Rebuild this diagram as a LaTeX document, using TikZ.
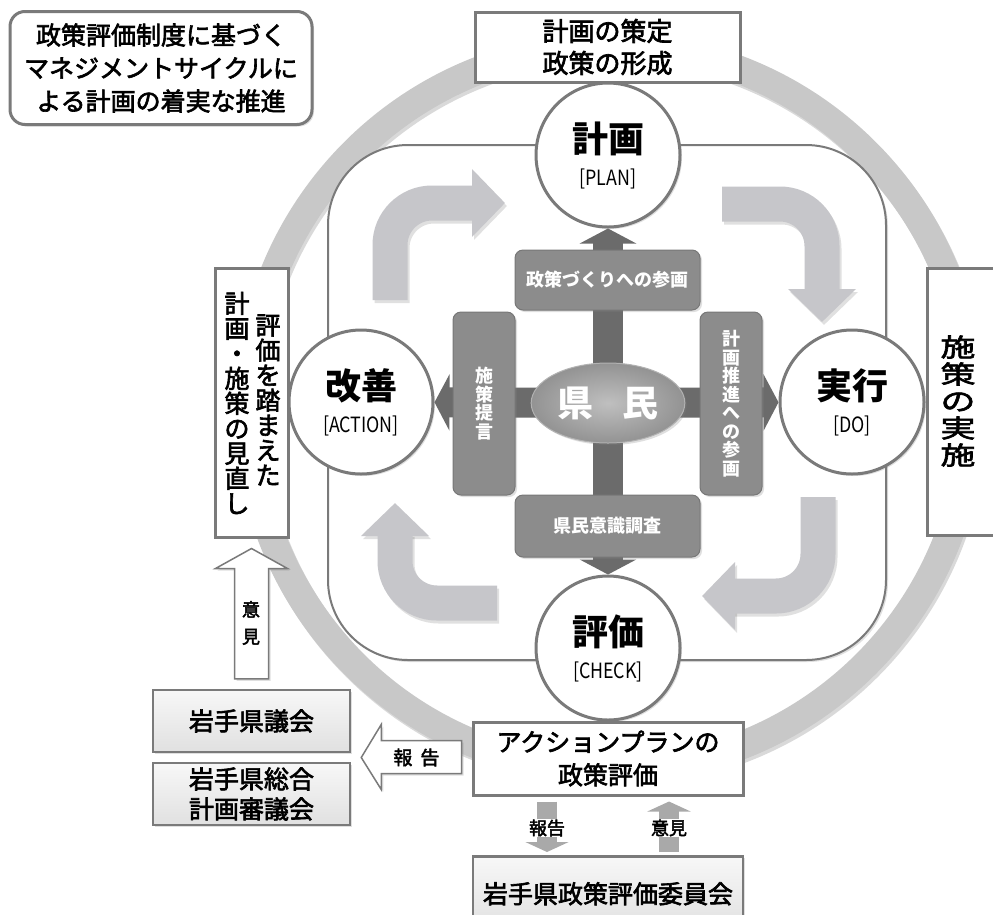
\documentclass[tikz,border=0pt]{standalone}
\usepackage{fontspec}
\setmainfont{Noto Sans CJK JP}[UprightFeatures={FakeBold=2.5}]
\newfontfamily\narrowfont[FakeStretch=0.85]{Noto Sans CJK JP}
\newfontfamily\widefont[FakeStretch=1.4,FakeBold=2.5]{Noto Sans CJK JP}
\usetikzlibrary{arrows.meta,shapes.geometric,shadows,calc}

\definecolor{ringgray}{HTML}{C8C8C8}
\definecolor{arrowgray}{HTML}{C6C6CA}
\definecolor{linegray}{HTML}{7A7A7A}
\definecolor{darkbox}{HTML}{8C8C8C}
\definecolor{bargray}{HTML}{6B6B6B}
\definecolor{smallgray}{HTML}{A9A9A9}

\newcommand{\fs}[1]{\fontsize{#1}{#1}\selectfont}
\newcommand{\fsz}[2]{\fontsize{#1}{#2}\selectfont}

\tikzset{
  softshadow/.style={drop shadow={shadow xshift=2pt,shadow yshift=-2pt,opacity=0.25}},
  phase/.style={circle, draw=linegray, line width=3pt, fill=white, minimum size=144pt,
    inner sep=0pt, align=center, softshadow, font=\fsz{21}{33}},
  whitebox/.style={draw=linegray, line width=3pt, fill=white, softshadow, align=center, inner sep=0pt},
  graybox/.style={draw=linegray, line width=2.5pt, top color=gray!6, bottom color=gray!24,
    softshadow, align=center, inner sep=0pt, font=\fsz{25}{30}},
  citizen/.style={draw=darkbox!85!black, line width=1pt, fill=darkbox, rounded corners=8pt,
    text=white, align=center, inner sep=0pt, softshadow, font=\fs{18}\bfseries},
  cyclearrow/.style={draw=arrowgray, line width=35pt, rounded corners=42pt,
    -{Triangle[length=33pt,width=66pt]}},
  cycleshadow/.style={cyclearrow, draw=black, opacity=0.12, shift={(2,3)}},
  bar/.style={draw=bargray, line width=30pt, -{Triangle[length=15pt,width=56pt]}},
  hollow/.style={draw=linegray, line width=1.5pt, fill=white, softshadow},
  small/.style={draw=smallgray, line width=20pt, -{Triangle[length=10pt,width=43pt]}},
}

\begin{document}
\begin{tikzpicture}[x=1pt,y=-1pt]
\useasboundingbox (0,0) rectangle (993,914);

% outer ring
\coordinate (hub) at (610,408);
\draw[black, opacity=0.15, line width=28pt] ([shift={(2,3)}]hub) circle[radius=362];
\draw[ringgray, line width=28pt] (hub) circle[radius=362];

% inner frame
\draw[draw=linegray, line width=2pt, fill=white, rounded corners=80pt, softshadow] (328,145) rectangle (886,660);

% cycle arrows
\draw[cycleshadow] (390,300) -- (390,203) -- (505,203);
\draw[cyclearrow] (390,300) -- (390,203) -- (505,203);
\draw[cycleshadow] (722,204) -- (822,204) -- (822,322);
\draw[cyclearrow] (722,204) -- (822,204) -- (822,322);
\draw[cycleshadow] (818,497) -- (818,596) -- (702,596);
\draw[cyclearrow] (818,497) -- (818,596) -- (702,596);
\draw[cycleshadow] (497,603) -- (395,603) -- (395,503);
\draw[cyclearrow] (497,603) -- (395,603) -- (395,503);

% PDCA
\node[phase] (plan) at (608,155) {{\fs{36}\bfseries 計画}\\{\narrowfont [PLAN]}};
\node[phase] (exec) at (852,402) {{\fs{36}\bfseries 実行}\\{\narrowfont [DO]}};
\node[phase] (check) at (608,648) {{\fs{36}\bfseries 評価}\\{\narrowfont [CHECK]}};
\node[phase] (act) at (361,402) {{\fs{36}\bfseries 改善}\\{\narrowfont [ACTION]}};

% citizens
\coordinate (mid) at (608,403);
\draw[bar] (mid) -- (plan);
\draw[bar] (mid) -- (exec);
\draw[bar] (mid) -- (check);
\draw[bar] (mid) -- (act);
\node[citizen, minimum width=185pt, minimum height=60pt] (c-plan) at (607.5,280) {政策づくりへの参画};
\node[citizen, minimum width=185pt, minimum height=62pt] (c-check) at (607.5,526) {県民意識調査};
\node[citizen, minimum width=62pt, minimum height=183pt, font=\fsz{18}{18.5}\bfseries] (c-act) at (484,403.5) {施\\策\\提\\言};
\node[citizen, minimum width=62pt, minimum height=183pt, font=\fsz{18}{18.5}\bfseries] (c-exec) at (731,403.5) {計\\画\\推\\進\\へ\\の\\参\\画};
\node[ellipse, minimum width=147pt, minimum height=80pt, draw=gray!60, line width=1pt,
  inner color=gray!50, outer color=gray!85, text=white, font=\fs{36}\bfseries, softshadow] (kenmin) at (mid) {県\hspace{30pt}民};

% boxes on the ring
\node[whitebox, rounded corners=15pt, minimum width=302pt, minimum height=113pt, font=\fsz{25}{33}] (title) at (161,68) {政策評価制度に基づく\\マネジメントサイクルに\\よる計画の着実な推進};
\node[whitebox, minimum width=265pt, minimum height=70pt, font=\fsz{26}{32}] (form) at (607.5,47) {計画の策定\\政策の形成};
\node[whitebox, minimum width=84pt, minimum height=267pt, anchor=west] (implbox) at (926,401.5) {};
\node[font=\widefont\fsz{25}{27}, align=center] (impl) at (958,401) {施\\策\\の\\実\\施};
\node[whitebox, minimum width=73pt, minimum height=269pt] (review) at (251.5,402.5) {};
\node[font=\fsz{25}{25}, align=center] (review-r) at (268,400) {評\\価\\を\\踏\\ま\\え\\た};
\node[font=\fsz{25}{25}, align=center] (review-l) at (237,403) {計\\画\\・\\施\\策\\の\\見\\直\\し};
\node[whitebox, minimum width=270pt, minimum height=73pt, font=\fsz{25}{33}] (evalbox) at (608,758.5) {アクションプランの\\政策評価};

% councils
\node[graybox, minimum width=197pt, minimum height=62pt] (assembly) at (251.5,721) {岩手県議会};
\node[graybox, minimum width=197pt, minimum height=62pt] (council) at (251.5,794) {岩手県総合\\計画審議会};
\node[graybox, minimum width=270pt, minimum height=75pt, anchor=north] (committee) at (608,855) {岩手県政策評価委員会};

% opinion to review
\path (review.south) ++(0,10) coordinate (up-tip);
\path (assembly.north) ++(0,-10) coordinate (up-base);
\draw[hollow] (up-tip) -- ($(up-tip)+(36,20)$) -- ($(up-tip)+(17,20)$) -- ($(up-base)+(17,0)$)
  -- ($(up-base)+(-17,0)$) -- ($(up-tip)+(-17,20)$) -- ($(up-tip)+(-36,20)$) -- cycle;
\node[font=\fsz{18}{27}, align=center] (opinion) at (251,623) {意\\見};

% report to councils
\coordinate (rep-tip) at ($(assembly.south east)!0.5!(council.north east)+(10,0)$);
\coordinate (rep-end) at ($(evalbox.west |- rep-tip)+(-10,0)$);
\draw[hollow] (rep-tip) -- ($(rep-tip)+(20,-33)$) -- ($(rep-tip)+(20,-17)$) -- ($(rep-end)+(0,-17)$)
  -- ($(rep-end)+(0,16)$) -- ($(rep-tip)+(20,16)$) -- ($(rep-tip)+(20,32)$) -- cycle;
\node[font=\fs{19}] (report) at ($(rep-tip)!0.55!(rep-end)$) {報\hspace{8pt}告};

% committee
\draw[small] ($(evalbox.south)+(-61,5)$) -- ($(committee.north)+(-61,-3)$);
\draw[small] ($(committee.north)+(61,-3)$) -- ($(evalbox.south)+(61,5)$);
\node[fill=white, font=\fs{18}, inner sep=1pt] (report2) at (547,828) {報告};
\node[fill=white, font=\fs{18}, inner sep=1pt] (opinion2) at (669,828) {意見};
\end{tikzpicture}
\end{document}
